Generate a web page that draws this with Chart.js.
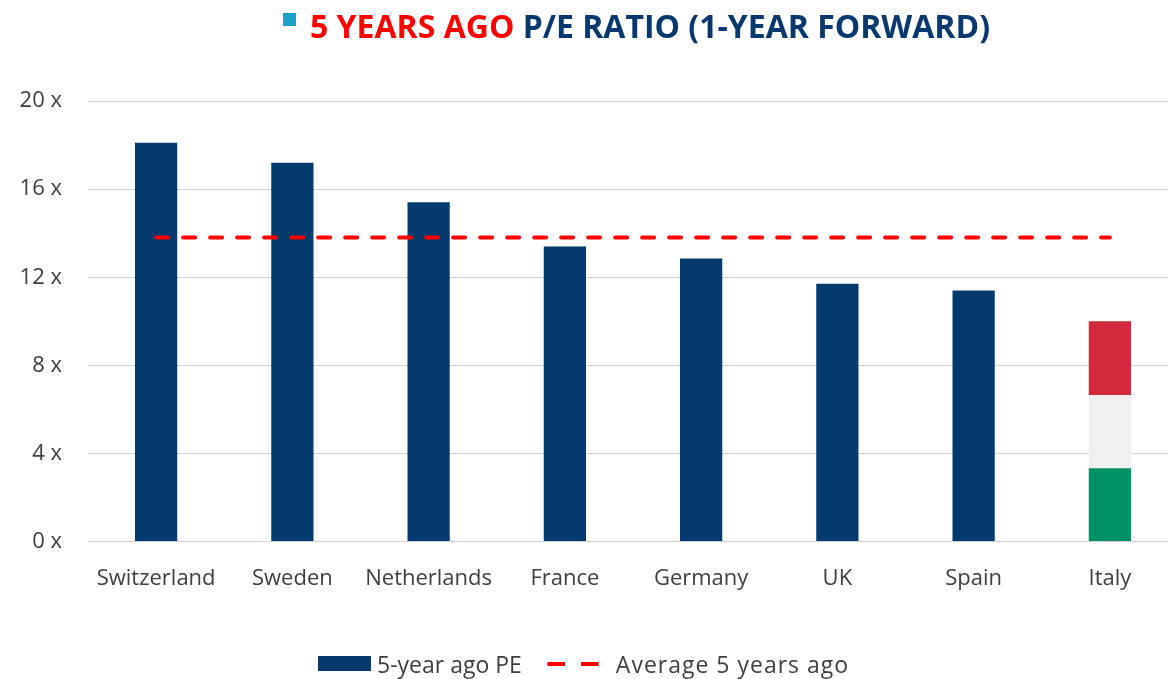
<!DOCTYPE html>
<html>
<head>
<meta charset="utf-8">
<script src="https://cdn.jsdelivr.net/npm/chart.js@4"></script>
<style>
  html, body { margin: 0; padding: 0; background: #fff; overflow: hidden; }
  #wrap { position: relative; width: 1168px; height: 679px; overflow: hidden; }
  #box { position: absolute; left: 0; top: 0; width: 1178px; height: 679px; }
  #title { position: absolute; left: 283px; top: 4px; font-family: "Open Sans", sans-serif; font-weight: 700; font-size: 32px; white-space: nowrap; }
  #title .sq { display: inline-block; width: 13px; height: 13px; background: #1BA1C6; vertical-align: top; margin-top: 9px; margin-right: 14px; }
  #title .red { color: #FF0000; }
  #title .blue { color: #08386E; }
  #legend { position: absolute; left: 318px; top: 645px; font-family: "Open Sans", sans-serif; font-size: 23px; color: #404040; white-space: nowrap; }
  #legend span { display: inline-block; vertical-align: middle; }
  #legend .avg { letter-spacing: 1px; }
  .swatch { width: 53px; height: 15px; background: #043A6E; margin-right: 6px; }
  .dash { width: 52px; height: 4px; margin: 0 17px 0 25px; background: repeating-linear-gradient(90deg, #FF0000 0 18px, transparent 18px 34px); border-radius: 2px; }
</style>
</head>
<body>
<div id="wrap">
  <div id="box"><canvas id="peChart"></canvas></div>
  <div id="title"><span class="sq"></span><span class="red">5 YEARS AGO</span> <span class="blue">P/E RATIO (1-YEAR FORWARD)</span></div>
  <div id="legend"><span class="swatch"></span><span>5-year ago PE</span><span class="dash"></span><span class="avg">Average 5 years ago</span></div>
</div>
<script>
// Chart data
const countries = ["Switzerland", "Sweden", "Netherlands", "France", "Germany", "UK", "Spain", "Italy"];
const pe5yAgo = [18.1, 17.2, 15.4, 13.4, 12.85, 11.7, 11.4, null];
const italyGreen = [null, null, null, null, null, null, null, 3.33];
const italyWhite = [null, null, null, null, null, null, null, 3.33];
const italyRed = [null, null, null, null, null, null, null, 3.34];
const average5y = [13.8, 13.8, 13.8, 13.8, 13.8, 13.8, 13.8, 13.8];
const yTicks = [0, 4, 8, 12, 16, 20];

const BAR_PCT = 0.31;

function segment(data, color) {
  return {
    type: "bar",
    data: data,
    backgroundColor: color,
    borderWidth: 0,
    barPercentage: BAR_PCT,
    categoryPercentage: 1,
    stack: "pe",
    order: 2,
  };
}

document.addEventListener("DOMContentLoaded", function () {
  const ctx = document.getElementById("peChart").getContext("2d");

  new Chart(ctx, {
    data: {
      labels: countries,
      datasets: [
        Object.assign(segment(pe5yAgo, "#043A6E"), { label: "5-year ago PE" }),
        segment(italyGreen, "#009066"),
        segment(italyWhite, "#F0F0F0"),
        segment(italyRed, "#D12A3C"),
        {
          type: "line",
          label: "Average 5 years ago",
          data: average5y,
          borderColor: "#FF0000",
          borderWidth: 4,
          borderDash: [12, 15],
          borderCapStyle: "round",
          pointRadius: 0,
          fill: false,
          order: 1,
        },
      ],
    },
    options: {
      responsive: true,
      maintainAspectRatio: false,
      animation: false,
      layout: {
        padding: { left: 10, right: 0, top: 101, bottom: 71 },
      },
      plugins: {
        legend: { display: false },
        tooltip: { enabled: false },
      },
      scales: {
        x: {
          stacked: true,
          grid: { display: false },
          border: { display: false },
          ticks: {
            color: "#404040",
            font: { family: "Open Sans", size: 22 },
            padding: 16,
            maxRotation: 0,
          },
        },
        y: {
          stacked: true,
          min: 0,
          max: 20,
          afterBuildTicks: function (axis) {
            axis.ticks = yTicks.map((v) => ({ value: v }));
          },
          afterFit: function (axis) {
            axis.width = 78;
          },
          grid: {
            color: "#D0D0D0",
            lineWidth: 1,
            drawTicks: false,
          },
          border: { display: false },
          ticks: {
            color: "#404040",
            font: { family: "Open Sans", size: 22 },
            padding: 26,
            callback: function (value) {
              return value + " x";
            },
          },
        },
      },
    },
  });
});
</script>
</body>
</html>
